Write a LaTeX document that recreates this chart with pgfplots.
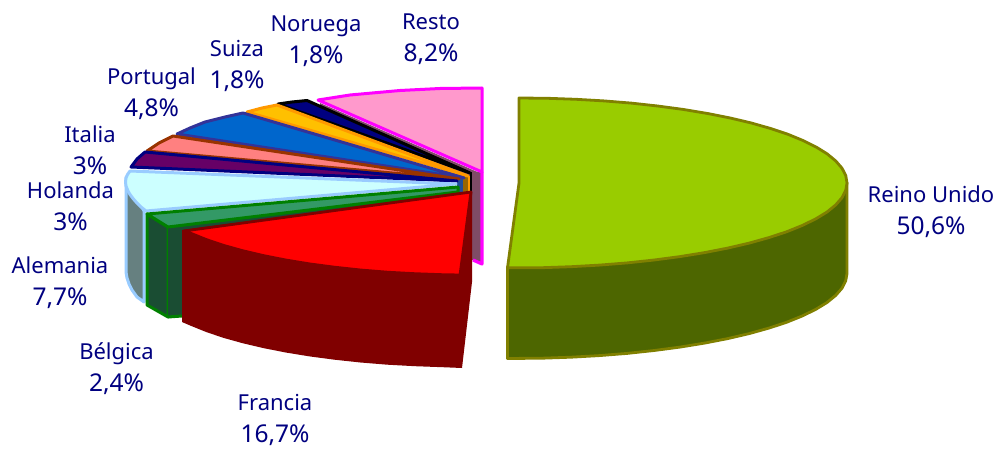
\documentclass[border=0pt]{standalone}
\usepackage{pgfplots}
\pgfplotsset{compat=1.18}
\usepackage{fontspec}
\setmainfont{Noto Sans}
\definecolor{lab}{HTML}{000080}
\definecolor{mauve}{HTML}{7F4C66}
\definecolor{magen}{HTML}{FF00FF}
\definecolor{pinkt}{HTML}{FF99CC}
\definecolor{navyt}{HTML}{000080}
\definecolor{oranget}{HTML}{FFC000}
\definecolor{orangel}{HTML}{FF9900}
\definecolor{blueT}{HTML}{0066CC}
\definecolor{blueL}{HTML}{333399}
\definecolor{salT}{HTML}{FF8080}
\definecolor{salL}{HTML}{993300}
\definecolor{purT}{HTML}{660066}
\definecolor{cyanT}{HTML}{CCFFFF}
\definecolor{cyanL}{HTML}{99CCFF}
\definecolor{cyanS}{HTML}{668080}
\definecolor{greenT}{HTML}{339966}
\definecolor{greenL}{HTML}{008000}
\definecolor{greenS}{HTML}{1A4D33}
\definecolor{redS}{HTML}{800000}
\definecolor{oliveT}{HTML}{99CC00}
\definecolor{oliveS}{HTML}{4D6600}
\definecolor{oliveL}{HTML}{808000}
\definecolor{goldS}{HTML}{996600}
\definecolor{blueS}{HTML}{1F4E9A}
\tikzset{lb/.style={text=lab,align=center,font=\fontsize{22}{32}\selectfont,inner sep=0pt}}
\newcommand{\pc}[1]{{\fontsize{24.5}{32}\selectfont #1}}
\begin{document}
\begin{tikzpicture}[x=1pt,y=1pt]
\path[use as bounding box] (0,0) rectangle (1001pt,449pt);
\begin{axis}[at={(0,0)},anchor=south west,width=1001pt,height=449pt,scale only axis,xmin=0,xmax=1001,ymin=0,ymax=449,y dir=reverse,hide axis,clip=false,every axis plot/.append style={line join=round}]
% Resto: inner side, thickness and top
\addplot[fill=mauve,draw=none] coordinates {(320,103)(482,174)(482,184)(470,184)(320,107)} --cycle;
\addplot[fill=mauve,draw=none] coordinates {(472,172)(482,172)(482,264)(472,260)} --cycle;
\addplot[draw=magen,line width=3.2pt] coordinates {(482,172)(482,264)(473,260)};
\addplot[fill=pinkt,draw=magen,line width=3pt] coordinates {(318,100)(350,95)(400,90.5)(440,88.5)(482,88)(482,172)} --cycle;
% radial side columns at the centre
\addplot[fill=black,draw=none] coordinates {(469.5,172)(472,172)(472,195)(469.5,195)} --cycle;
\addplot[fill=goldS,draw=none] coordinates {(463,176)(468,176)(468,195)(463,195)} --cycle;
\addplot[fill=orangel,draw=none] coordinates {(468,176)(469.5,176)(469.5,195)(468,195)} --cycle;
\addplot[fill=blueS,draw=none] coordinates {(457,177)(463,177)(463,195)(457,195)} --cycle;
% Noruega
\addplot[fill=navyt,draw=black,line width=3pt] coordinates {(278,104)(292,102)(307,100.5)(470,173)} --cycle;
% Suiza
\addplot[fill=oranget,draw=orangel,line width=3pt] coordinates {(247,112)(262,108)(277,105)(468,176)} --cycle;
% Portugal
\addplot[fill=blueT,draw=blueL,line width=3pt] coordinates {(177,134)(190,128)(205,122)(225,117)(243,113)(464,178)} --cycle;
% Italia
\addplot[fill=salT,draw=salL,line width=3pt] coordinates {(147,151)(159,143)(173,136)(459,179)} --cycle;
% Holanda
\addplot[fill=purT,draw=navyt,line width=3pt] coordinates {(131,167)(137,159)(145,152)(457,181)} --cycle;
% Alemania
\addplot[fill=cyanS,draw=cyanL,line width=3pt] coordinates {(126,177)(126,272)(127,278)(129,284)(132,290)(137,297)(144,302)(144,211)} --cycle;
\addplot[fill=cyanT,draw=cyanL,line width=3pt] coordinates {(130,171)(127.5,174.5)(126,178)(125.5,182)(126,186)(128,191)(130,194.5)(133,198.5)(136.5,202.5)(141,207)(146,211)(456,184)} --cycle;
% Belgica
\addplot[fill=greenS,draw=greenL,line width=3pt] coordinates {(147,214)(168,227)(168,317)(147,305)} --cycle;
\addplot[fill=greenS,draw=none] coordinates {(168,227)(458,192)(458,300)(182,315)(168,317)} --cycle;
\addplot[draw=greenL,line width=3pt] coordinates {(168,317)(182,316)};
\addplot[fill=greenT,draw=greenL,line width=3pt] coordinates {(147,214)(458,187)(458,192)(168,227)} --cycle;
% Francia
\addplot[fill=redS,draw=none] coordinates {(182,230)(472,192)(472,282)(462,368)(442.8,367.2)(415,366.2)(387.4,364.7)(360.5,362.5)(334.5,359.7)(309.5,356.4)(285.7,352.5)(263.4,348.1)(242.6,343.2)(223.6,337.9)(206.4,332.1)(191.3,326)(182,322)} --cycle;
\addplot[fill=red,draw=redS,line width=2.8pt] coordinates {(184,231)(471,192)(460,275)(442.8,274.7)(415,273.7)(387.4,272.2)(360.5,270)(334.5,267.2)(309.5,263.9)(285.7,260)(263.4,255.6)(242.6,250.7)(223.6,245.4)(206.4,239.6)(191.3,233.5)} --cycle;
% Reino Unido
\addplot[fill=oliveS,draw=oliveL,line width=2.8pt] coordinates {(507.5,267)(507.5,358.5)(542.1,358.2)(571,357.2)(599.4,355.6)(627.2,353.4)(654.2,350.5)(680,347.1)(704.6,343.1)(727.7,338.6)(749.2,333.6)(768.9,328.1)(786.6,322.3)(802.2,316)(815.7,309.4)(826.9,302.6)(835.6,295.5)(841.9,288.3)(845.7,280.9)(847,273.5)(847,183)} --cycle;
\addplot[fill=oliveT,draw=oliveL,line width=2.8pt] coordinates {(519,98)(519,183)(507.5,267.8)(542.1,267.7)(571,266.7)(599.4,265.1)(627.2,262.9)(654.2,260)(680,256.6)(704.6,252.6)(727.7,248.1)(749.2,243.1)(768.9,237.6)(786.6,231.8)(802.2,225.5)(815.7,218.9)(826.9,212.1)(835.6,205)(841.9,197.8)(845.7,190.4)(847,183)(845.8,175.6)(842,168.2)(835.8,161)(827.2,153.9)(816.3,147.1)(803,140.5)(787.7,134.2)(770.3,128.4)(751,122.9)(729.8,117.9)(707.1,113.4)(683,109.4)(657.6,106)(631.2,103.1)(603.9,100.9)(576,99.3)(547.6,98.3)} --cycle;
% labels
\node[lb] at (axis cs:931,212) {Reino Unido\\\pc{50,6\%}};
\node[lb] at (axis cs:275,419.5) {Francia\\\pc{16,7\%}};
\node[lb] at (axis cs:116.5,368.5) {Bélgica\\\pc{2,4\%}};
\node[lb] at (axis cs:60,283) {Alemania\\\pc{7,7\%}};
\node[lb] at (axis cs:70.5,206.5) {Holanda\\\pc{3\%}};
\node[lb] at (axis cs:90,150) {Italia\\\pc{3\%}};
\node[lb] at (axis cs:151.5,94) {Portugal\\\pc{4,8\%}};
\node[lb] at (axis cs:237,65.5) {Suiza\\\pc{1,8\%}};
\node[lb] at (axis cs:316,41) {Noruega\\\pc{1,8\%}};
\node[lb] at (axis cs:431,39.5) {Resto\\\pc{8,2\%}};
\end{axis}
\end{tikzpicture}
\end{document}
